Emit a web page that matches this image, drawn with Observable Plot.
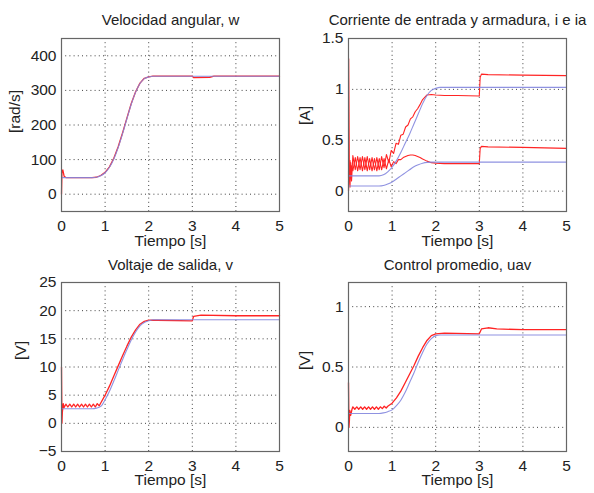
<!DOCTYPE html>
<html><head><meta charset="utf-8">
<script src="https://cdn.jsdelivr.net/npm/d3@7"></script>
<script src="https://cdn.jsdelivr.net/npm/@observablehq/plot@0.6"></script>
<style>
body{margin:0;background:#fff;}
#c{position:relative;width:594px;height:493px;overflow:hidden;background:#fff;}
#c svg{position:absolute;}
</style></head><body><div id="c"></div>
<script>
// ---- data ----
const xTicks = [0, 1, 2, 3, 4, 5];
const xLabel = "Tiempo [s]";
const titles = ["Velocidad angular, w", "Corriente de entrada y armadura, i e ia", "Voltaje de salida, v", "Control promedio, uav"];
const yLabels = ["[rad/s]", "[A]", "[V]", "[V]"];
const yTicksW = [0, 100, 200, 300, 400];
const yTicksI = [0, 0.5, 1, 1.5];
const yTicksV = [-5, 0, 5, 10, 15, 20, 25];
const yTicksU = [0, 0.5, 1];

// shared time grid for the reference (blue) curves
const tRef = [0, 0.7, 0.8, 0.9, 1.0, 1.1, 1.2, 1.3, 1.4, 1.5, 1.6, 1.7, 1.8, 1.9, 2.0, 2.1, 2.2, 3.0, 5.0];

// angular speed
const wRef = [48, 48, 49, 53, 62, 78, 102, 135, 175, 218, 260, 295, 320, 334, 339, 341, 341, 341, 341];
const wT = [0, 0.01, 0.03, 0.06, 0.1, 0.7, 0.8, 0.9, 1.0, 1.1, 1.2, 1.3, 1.4, 1.5, 1.6, 1.7, 1.8, 1.9, 2.0, 2.1, 2.2, 3.0, 3.03, 3.4, 3.5, 5.0];
const wAct = [0, 62, 70, 52, 48, 48, 49, 54, 63, 79, 104, 137, 177, 220, 262, 296, 321, 335, 339, 341, 341, 341, 337, 338, 341, 341];

// currents
const iRefA = [0.15, 0.15, 0.16, 0.19, 0.235, 0.3, 0.38, 0.47, 0.56, 0.66, 0.76, 0.86, 0.94, 0.99, 1.01, 1.02, 1.02, 1.02, 1.02];
const iRefB = [0.05, 0.05, 0.055, 0.07, 0.09, 0.12, 0.15, 0.18, 0.21, 0.24, 0.26, 0.275, 0.283, 0.285, 0.285, 0.285, 0.285, 0.285, 0.285];
const iT = [0, 0.005, 0.02, 0.035, 0.05, 0.07, 0.1,
  0.155, 0.21, 0.265, 0.32, 0.375, 0.43, 0.485, 0.54, 0.595, 0.65,
  0.705, 0.76, 0.815, 0.87, 0.925, 0.98, 1.035, 1.09, 1.145, 1.2,
  1.255, 1.31, 1.365, 1.42, 1.475, 1.53, 1.585, 1.64,
  1.7, 1.8, 1.9, 2.0, 2.2, 2.5, 3.0, 3.02, 3.05, 3.2, 4.0, 5.0];
const iActA = [0, 1.3, 0.2, 0.04, 0.28, 0.1, 0.35,
  0.21, 0.34, 0.21, 0.34, 0.21, 0.34, 0.21, 0.33, 0.21, 0.33,
  0.21, 0.34, 0.23, 0.36, 0.28, 0.4, 0.37, 0.47, 0.46, 0.55,
  0.56, 0.63, 0.65, 0.71, 0.73, 0.78, 0.81, 0.85,
  0.9, 0.945, 0.95, 0.945, 0.94, 0.94, 0.935, 1.12, 1.15, 1.145, 1.14, 1.135];
const iActB = [0, 0.05, 0.1, 0.3, 0.12, 0.25, 0.2,
  0.33, 0.2, 0.33, 0.2, 0.33, 0.2, 0.32, 0.2, 0.32, 0.2,
  0.32, 0.21, 0.32, 0.22, 0.31, 0.24, 0.29, 0.27, 0.31, 0.31,
  0.33, 0.34, 0.35, 0.355, 0.355, 0.35, 0.34, 0.33,
  0.315, 0.295, 0.28, 0.275, 0.27, 0.27, 0.27, 0.42, 0.44, 0.435, 0.43, 0.42];

// output voltage
const vRef = [2.6, 2.6, 2.7, 3.0, 4.2, 5.7, 7.5, 9.4, 11.3, 13.1, 14.8, 16.2, 17.3, 17.9, 18.2, 18.4, 18.4, 18.4, 18.4];
const vT = [0, 0.01, 0.02, 0.04, 0.06,
  0.1, 0.145, 0.19, 0.235, 0.28, 0.325, 0.37, 0.415, 0.46, 0.505, 0.55, 0.595, 0.64, 0.685, 0.73, 0.775, 0.82, 0.865,
  0.9, 1.0, 1.1, 1.2, 1.3, 1.4, 1.5, 1.6, 1.7, 1.8, 1.9, 2.0,
  2.2, 3.0, 3.03, 3.2, 4.0, 5.0];
const vAct = [10, 0, 2, 3.5, 2.8,
  3.4, 2.9, 3.4, 2.9, 3.4, 2.9, 3.4, 2.9, 3.4, 2.9, 3.4, 2.9, 3.4, 2.9, 3.4, 2.9, 3.5, 3.1,
  3.6, 5.0, 6.6, 8.4, 10.2, 12.0, 13.7, 15.3, 16.6, 17.6, 18.1, 18.3,
  18.3, 18.2, 19.0, 19.2, 19.1, 19.1];

// average control
const uRef = [0.115, 0.115, 0.12, 0.13, 0.145, 0.18, 0.225, 0.29, 0.37, 0.45, 0.54, 0.62, 0.69, 0.735, 0.76, 0.765, 0.765, 0.765, 0.765];
const uT = [0, 0.01, 0.02, 0.03, 0.05, 0.08,
  0.1, 0.145, 0.19, 0.235, 0.28, 0.325, 0.37, 0.415, 0.46, 0.505, 0.55, 0.595, 0.64, 0.685, 0.73, 0.775, 0.82, 0.865,
  0.9, 1.0, 1.1, 1.2, 1.3, 1.4, 1.5, 1.6, 1.7, 1.8, 1.9, 2.0,
  2.2, 3.0, 3.05, 3.2, 3.4, 4.0, 5.0];
const uAct = [0.37, 0, 0.05, 0.14, 0.1, 0.15,
  0.17, 0.15, 0.17, 0.15, 0.17, 0.15, 0.17, 0.15, 0.17, 0.15, 0.17, 0.15, 0.17, 0.15, 0.17, 0.155, 0.175, 0.16,
  0.175, 0.2, 0.245, 0.3, 0.37, 0.44, 0.51, 0.59, 0.66, 0.72, 0.76, 0.775,
  0.78, 0.775, 0.815, 0.825, 0.815, 0.81, 0.81];

// ---- drawing ----
const zip = (t, v) => t.map((d, i) => ({t: d, v: v[i]}));
const RED = "#ff2424", BLUE = "#8386de";
const FS = 15.5;
const fmt = d => d < 0 ? "\u2212" + (-d) : String(d);
const container = document.getElementById("c");

function panel(o) {
  const marks = [
    Plot.gridX(xTicks, {stroke: "#000", strokeOpacity: 0.75, strokeDasharray: "1,3.2"}),
    Plot.gridY(o.yTicks, {stroke: "#000", strokeOpacity: 0.75, strokeDasharray: "1,3.2"}),
    ...o.red.map(d => Plot.line(d, {x: "t", y: "v", stroke: RED, strokeWidth: o.redWidth || 1.3})),
    ...o.blue.map(d => Plot.line(d, {x: "t", y: "v", stroke: BLUE, strokeWidth: 1.1, strokeOpacity: 0.9, curve: "monotone-x"})),
    Plot.frame({stroke: "#666", strokeWidth: 1.2}),
    Plot.axisX(xTicks, {tickSize: 0, tickPadding: 8, fontSize: FS, label: null, tickFormat: fmt}),
    Plot.axisY(o.yTicks, {tickSize: 0, tickPadding: 5, fontSize: FS, label: null, tickFormat: fmt}),
    Plot.text([o.title], {text: d => d, frameAnchor: "top", lineAnchor: "middle", dy: o.titleDy, fontSize: 15}),
    Plot.text([xLabel], {text: d => d, frameAnchor: "bottom", lineAnchor: "middle", dy: o.xlabDy, fontSize: FS}),
    Plot.text([o.ylabel], {text: d => d, frameAnchor: "left", lineAnchor: "middle", rotate: -90, dx: o.ylabDx, dy: o.ylabDy, fontSize: FS})
  ];
  const svg = Plot.plot({
    width: o.width, height: o.height,
    marginLeft: o.mL, marginRight: o.mR, marginTop: o.mT, marginBottom: o.mB,
    x: {domain: [0, 5]},
    y: {domain: o.yDomain},
    style: {fontFamily: "'Liberation Sans', Arial, sans-serif", fontSize: FS + "px", background: "transparent", color: "#222", overflow: "visible"},
    marks
  });
  svg.style.left = o.left + "px";
  svg.style.top = o.top + "px";
  container.appendChild(svg);
}

panel({left: 0, top: 0, width: 297, height: 250, mL: 61, mR: 18, mT: 38, mB: 39,
  yDomain: [-50, 450], yTicks: yTicksW, title: titles[0], titleDy: -18, xlabDy: 30,
  ylabel: yLabels[0], ylabDx: -46, ylabDy: 8,
  red: [zip(wT, wAct)], blue: [zip(tRef, wRef)]});

panel({left: 297, top: 0, width: 297, height: 250, mL: 51, mR: 28, mT: 38, mB: 39,
  yDomain: [-0.2, 1.5], yTicks: yTicksI, title: titles[1], titleDy: -18, xlabDy: 30,
  ylabel: yLabels[1], ylabDx: -43, ylabDy: 0, redWidth: 1.1,
  red: [zip(iT, iActA), zip(iT, iActB)], blue: [zip(tRef, iRefA), zip(tRef, iRefB)]});

panel({left: 0, top: 250, width: 297, height: 243, mL: 61, mR: 18, mT: 32, mB: 42,
  yDomain: [-5, 25], yTicks: yTicksV, title: titles[2], titleDy: -17, xlabDy: 29,
  ylabel: yLabels[2], ylabDx: -40, ylabDy: -7,
  red: [zip(vT, vAct)], blue: [zip(tRef, vRef)]});

panel({left: 297, top: 250, width: 297, height: 243, mL: 51, mR: 28, mT: 32, mB: 42,
  yDomain: [-0.2, 1.2], yTicks: yTicksU, title: titles[3], titleDy: -17, xlabDy: 29,
  ylabel: yLabels[3], ylabDx: -43, ylabDy: 3,
  red: [zip(uT, uAct)], blue: [zip(tRef, uRef)]});
</script></body></html>
